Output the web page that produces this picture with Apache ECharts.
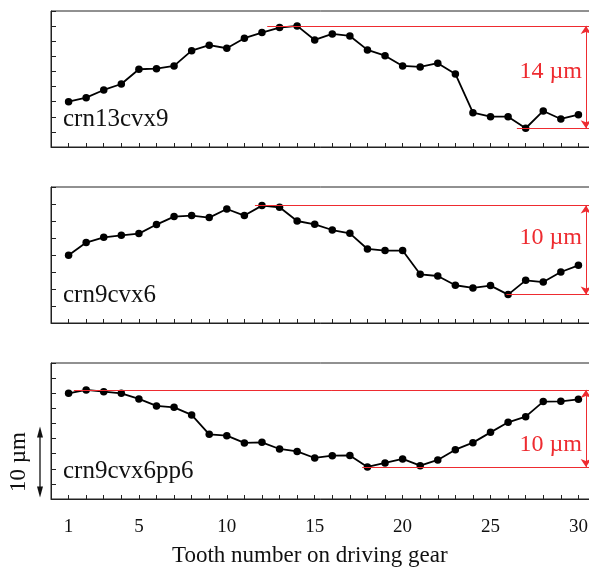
<!DOCTYPE html>
<html>
<head>
<meta charset="utf-8">
<style>
  html, body { margin: 0; padding: 0; background: #fff; }
  #chart { width: 589px; height: 569px; }
</style>
<script src="https://cdn.jsdelivr.net/npm/echarts@6/dist/echarts.min.js"></script>
</head>
<body>
<div id="chart"></div>
<script>
// tooth numbers on the driving gear
const teeth = [1, 2, 3, 4, 5, 6, 7, 8, 9, 10, 11, 12, 13, 14, 15, 16, 17, 18, 19, 20, 21, 22, 23, 24, 25, 26, 27, 28, 29, 30]
const xTickLabels = [1, 5, 10, 15, 20, 25, 30]

// deviation in µm, one array per gear variant
const crn13cvx9 = [6.0, 6.53, 7.55, 8.34, 10.29, 10.37, 10.73, 12.75, 13.47, 13.07, 14.4, 15.14, 15.8, 16.03, 14.17, 14.97, 14.7, 12.85, 12.09, 10.73, 10.6, 11.09, 9.67, 4.54, 4.01, 4.01, 2.48, 4.77, 3.71, 4.28]
const crn9cvx6 = [7.96, 9.46, 10.08, 10.32, 10.52, 11.58, 12.52, 12.64, 12.4, 13.41, 12.64, 13.81, 13.61, 12.0, 11.61, 10.94, 10.55, 8.71, 8.52, 8.52, 5.73, 5.53, 4.44, 4.12, 4.4, 3.34, 5.02, 4.82, 6.0, 6.79]
const crn9cvx6pp6 = [13.99, 14.44, 14.21, 13.99, 13.25, 12.32, 12.13, 11.13, 8.56, 8.38, 7.42, 7.5, 6.62, 6.3, 5.43, 5.74, 5.77, 4.24, 4.77, 5.3, 4.41, 5.17, 6.53, 7.46, 8.82, 10.15, 10.9, 12.89, 12.93, 13.19]

const panelNames = ['crn13cvx9', 'crn9cvx6', 'crn9cvx6pp6']
const rangeLabels = ['14 µm', '10 µm', '10 µm']
const yMax = [18, 16, 18]

const FONT = '"Liberation Serif", "Times New Roman", serif'
const RED = '#ee2b30'

const panels = [
  { data: crn13cvx9, top: 11, topStart: 12.3, botStart: 26.5, labelY: 9.9 },
  { data: crn9cvx6, top: 187, topStart: 11.6, botStart: 25.9, labelY: 10.0 },
  { data: crn9cvx6pp6, top: 363, topStart: 1.3, botStart: 17.7, labelY: 7.2 }
]

const chart = echarts.init(document.getElementById('chart'))

const grids = []
const xAxes = []
const yAxes = []
const series = []
const titles = []

panels.forEach((p, i) => {
  const hi = Math.max(...p.data)
  const lo = Math.min(...p.data)
  const last = i === panels.length - 1
  grids.push({
    left: 51, right: -7, top: p.top, height: 136,
    outerBoundsMode: 'none', containLabel: false,
    show: true, borderColor: '#222', borderWidth: 1, backgroundColor: 'transparent'
  })
  xAxes.push({
    type: 'value', gridIndex: i, min: 0, max: 31, interval: 1,
    axisLine: { show: true, lineStyle: { color: '#222', width: 1 } },
    axisTick: { show: true, inside: true, length: 4, lineStyle: { color: '#222' } },
    axisLabel: {
      show: last, interval: 0, margin: 19, color: '#111', fontFamily: FONT, fontSize: 19,
      hideOverlap: false,
      formatter: (v) => (xTickLabels.includes(v) ? String(v) : '')
    },
    splitLine: { show: false }
  })
  yAxes.push({
    type: 'value', gridIndex: i, min: 0, max: yMax[i], interval: 2,
    axisLine: { show: true, lineStyle: { color: '#222', width: 1 } },
    axisTick: { show: true, inside: true, length: 5, lineStyle: { color: '#222' } },
    axisLabel: { show: false },
    splitLine: { show: false }
  })
  titles.push({
    text: panelNames[i], left: 63, top: p.top + 96, padding: 0,
    textStyle: { fontFamily: FONT, fontWeight: 'normal', fontSize: 25, color: '#111' }
  })
  series.push({
    type: 'line', xAxisIndex: i, yAxisIndex: i,
    data: teeth.map((t, k) => [t, p.data[k]]),
    symbol: 'circle', symbolSize: 7.5,
    itemStyle: { color: '#000' },
    lineStyle: { color: '#000', width: 1.8 },
    clip: false,
    animation: false,
    markLine: {
      silent: true, animation: false, symbol: 'none',
      label: { show: false },
      lineStyle: { color: RED, width: 1, type: 'solid' },
      emphasis: { disabled: true },
      data: [
        [{ coord: [p.topStart, hi] }, { coord: [31, hi] }],
        [{ coord: [p.botStart, lo] }, { coord: [31, lo] }],
        [{ coord: [30.43, hi], symbol: 'arrow', symbolSize: 8 }, { coord: [30.43, lo], symbol: 'arrow', symbolSize: 8 }]
      ]
    },
    markPoint: {
      silent: true, animation: false, symbol: 'circle', symbolSize: 0,
      label: {
        show: true, position: 'left', distance: 0,
        formatter: rangeLabels[i], color: RED, fontFamily: FONT, fontSize: 24
      },
      data: [{ coord: [30.2, p.labelY] }]
    }
  })
})

titles.push({
  text: 'Tooth number on driving gear', left: 172, top: 544, padding: 0,
  textStyle: { fontFamily: FONT, fontWeight: 'normal', fontSize: 23, color: '#111' }
})

chart.setOption({
  animation: false,
  title: titles,
  grid: grids,
  xAxis: xAxes,
  yAxis: yAxes,
  series: series
})

// 10 µm scale bar beside the bottom panel, placed through the bottom panel's y scale
const barBottom = chart.convertToPixel({ gridIndex: 2 }, [0, 0.2])[1]
const barTop = chart.convertToPixel({ gridIndex: 2 }, [0, 9.6])[1]
const barX = chart.convertToPixel({ gridIndex: 2 }, [0, 0])[0] - 11
chart.setOption({
  graphic: [
    { type: 'line', shape: { x1: barX, y1: barTop + 6, x2: barX, y2: barBottom - 6 }, style: { stroke: '#111', lineWidth: 1.3 } },
    { type: 'polygon', shape: { points: [[barX, barTop], [barX - 3, barTop + 11], [barX + 3, barTop + 11]] }, style: { fill: '#111' } },
    { type: 'polygon', shape: { points: [[barX, barBottom], [barX - 3, barBottom - 11], [barX + 3, barBottom - 11]] }, style: { fill: '#111' } },
    {
      type: 'text', x: barX - 21, y: (barTop + barBottom) / 2, rotation: Math.PI / 2,
      style: { text: '10 µm', fill: '#111', font: '23px ' + FONT, align: 'center', verticalAlign: 'middle' }
    }
  ]
})
</script>
</body>
</html>
